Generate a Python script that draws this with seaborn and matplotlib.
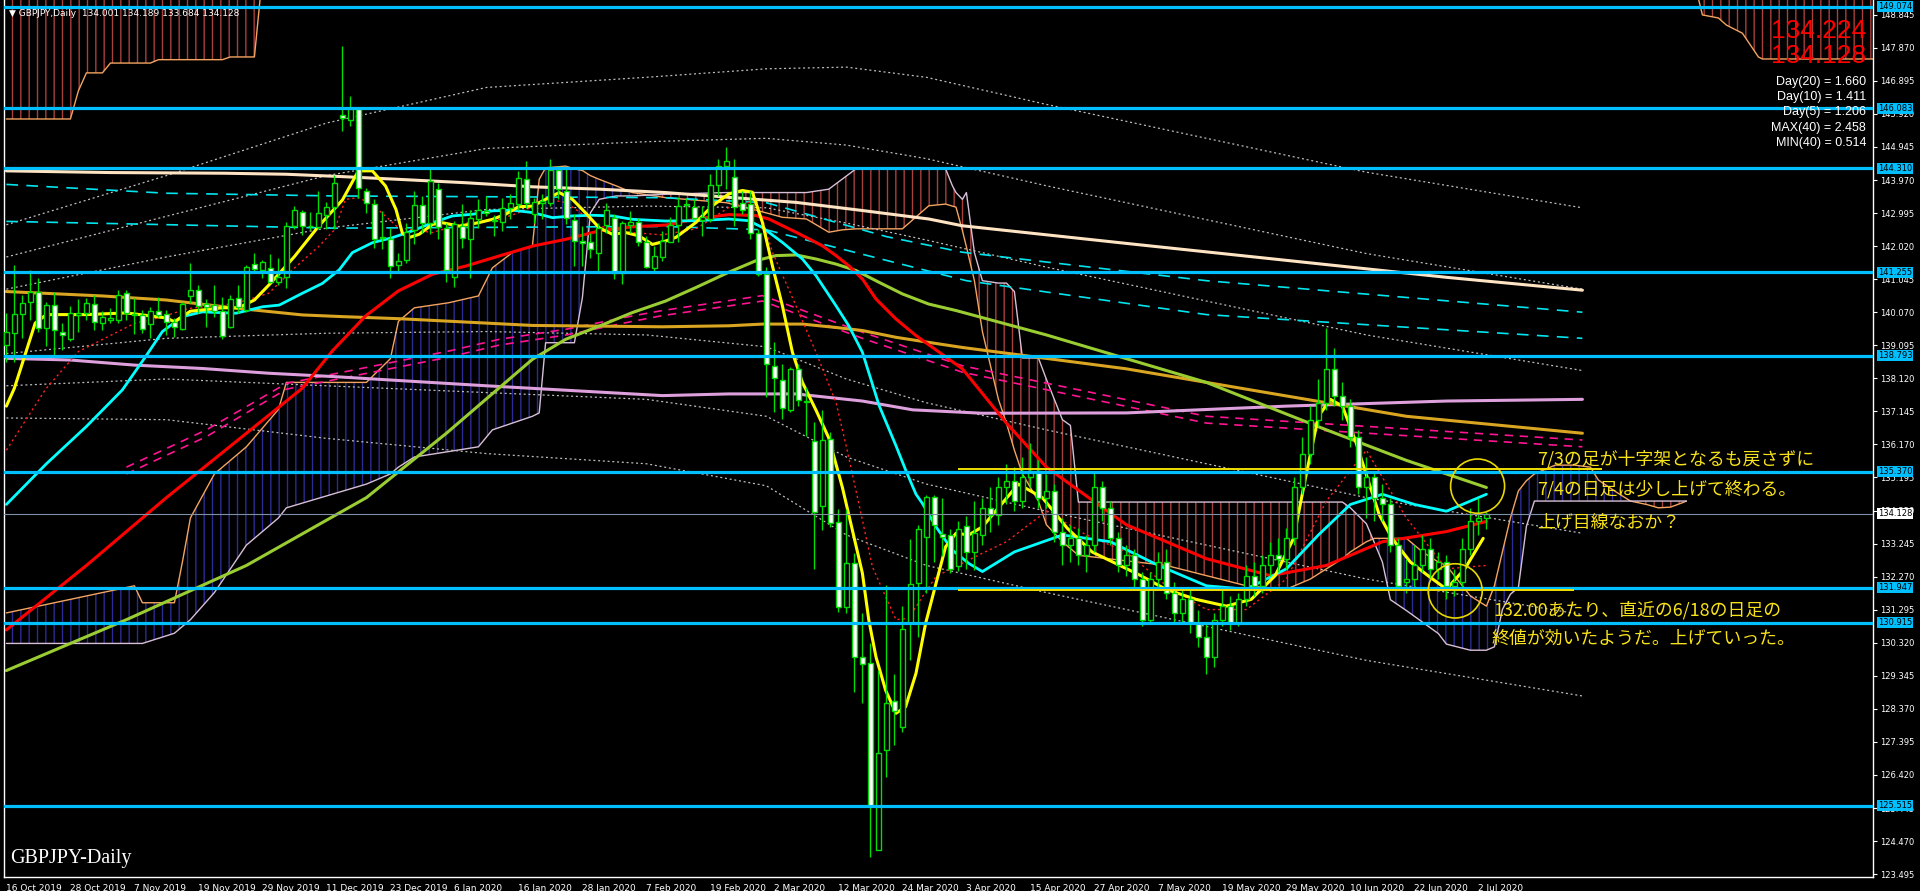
import numpy as np
import pandas as pd
import seaborn as sns
import matplotlib
matplotlib.use("Agg")
import matplotlib.pyplot as plt
from matplotlib.patches import Ellipse

sns.set_theme(style="dark")
plt.rcParams['font.family'] = ['DejaVu Sans']
plt.rcParams['hatch.linewidth'] = 1.0

# ---------------- data ----------------
dates = pd.bdate_range("2019-10-16", "2020-07-03")
dates = dates[~dates.isin(pd.to_datetime(["2019-12-25", "2020-01-01"]))]

opens = [139.10, 139.45, 140.02, 140.38, 140.68, 139.60, 140.27, 139.50, 139.27, 140.00,
         140.04, 140.30, 139.74, 139.83, 139.84, 140.63, 139.98, 139.98, 139.72, 140.12,
         140.01, 139.77, 139.57, 140.55, 140.73, 140.30, 140.28, 140.12, 139.62, 140.48,
         140.15, 141.48, 141.31, 141.37, 140.95, 141.10, 142.60, 143.04, 142.60, 142.57,
         142.94, 143.18, 145.88, 145.74, 146.05, 143.65, 143.27, 142.28, 142.24, 141.45,
         141.60, 142.49, 143.24, 142.71, 143.71, 142.56, 141.12, 142.61, 142.24, 142.83,
         143.06, 142.80, 142.73, 143.15, 143.25, 144.01, 142.96, 143.30, 143.30, 144.28,
         143.65, 142.79, 142.17, 142.14, 141.83, 142.63, 142.86, 141.22, 142.64, 142.73,
         142.15, 141.38, 141.71, 142.15, 142.64, 143.25, 143.16, 142.80, 142.82, 143.82,
         144.37, 144.07, 143.28, 143.26, 142.40, 141.20, 138.49, 138.08, 137.20, 138.40,
         137.44, 136.27, 134.35, 136.32, 133.87, 131.38, 132.68, 129.91, 129.73, 124.21,
         127.17, 128.61, 127.84, 130.91, 132.07, 133.45, 134.63, 133.53, 133.49, 132.58,
         133.77, 132.99, 133.50, 134.30, 134.10, 134.90, 135.10, 134.50, 135.20, 135.40,
         134.60, 134.80, 133.60, 133.20, 133.40, 132.90, 133.20, 134.90, 134.30, 133.40,
         132.60, 132.90, 132.20, 131.00, 132.20, 132.70, 131.80, 131.20, 131.60, 130.90,
         130.50, 129.90, 131.00, 131.40, 130.90, 131.60, 132.30, 132.00, 132.60, 132.90,
         132.80, 133.40, 134.90, 135.90, 136.90, 137.40, 138.40, 137.60, 137.30, 136.40,
         134.90, 135.20, 134.60, 134.40, 133.20, 132.10, 132.20, 132.60, 133.10, 132.50,
         132.70, 132.00, 132.10, 133.10, 133.90, 134.001]
highs = [140.04, 141.46, 140.58, 141.32, 141.07, 140.38, 140.68, 139.76, 140.24, 140.45,
         140.48, 140.58, 140.12, 140.19, 140.73, 140.73, 140.48, 140.13, 140.23, 140.53,
         140.14, 139.89, 140.38, 141.51, 140.87, 140.45, 140.87, 140.53, 140.58, 140.87,
         141.46, 141.81, 141.61, 141.79, 141.66, 142.74, 143.20, 143.09, 143.04, 143.65,
         143.33, 144.12, 147.92, 146.45, 146.10, 143.74, 143.40, 143.06, 142.56, 141.82,
         142.71, 143.65, 143.50, 144.33, 143.89, 142.71, 142.76, 143.25, 143.10, 143.42,
         143.50, 142.95, 143.45, 143.55, 144.24, 144.53, 143.45, 143.55, 144.58, 144.38,
         144.33, 142.96, 142.61, 142.41, 142.71, 143.28, 142.96, 142.76, 143.06, 142.86,
         142.32, 142.02, 142.47, 142.87, 143.46, 143.43, 143.41, 143.20, 144.15, 144.59,
         144.93, 144.59, 143.66, 143.66, 142.53, 141.40, 139.18, 138.54, 138.44, 138.54,
         137.85, 136.84, 137.18, 136.55, 134.28, 134.28, 132.96, 131.19, 130.30, 129.52,
         132.02, 129.40, 131.40, 133.37, 133.79, 134.68, 134.68, 134.58, 133.69, 133.92,
         134.06, 134.51, 134.60, 134.90, 135.20, 135.60, 135.50, 135.80, 136.20, 135.70,
         135.30, 135.00, 134.00, 133.80, 133.70, 133.50, 135.40, 135.10, 134.50, 133.60,
         133.20, 133.10, 132.40, 132.40, 133.00, 133.10, 132.10, 131.90, 131.90, 131.30,
         130.90, 131.20, 131.90, 131.70, 131.80, 132.60, 132.70, 132.90, 133.30, 133.40,
         133.70, 135.20, 136.40, 137.30, 138.10, 139.60, 139.00, 138.00, 137.50, 136.60,
         135.80, 135.40, 135.00, 134.60, 133.40, 132.80, 133.20, 133.50, 133.40, 133.00,
         132.90, 132.50, 133.40, 134.30, 134.60, 134.189]
lows = [138.61, 138.61, 139.30, 139.84, 139.50, 139.06, 138.81, 138.96, 139.23, 139.50,
        139.84, 139.55, 139.55, 139.74, 139.74, 139.84, 139.43, 139.45, 139.30, 139.92,
        139.40, 139.35, 139.55, 140.33, 140.04, 139.64, 139.94, 139.27, 139.59, 140.04,
        140.09, 141.22, 141.07, 140.92, 140.87, 140.77, 142.52, 142.35, 142.50, 142.52,
        142.52, 142.52, 145.42, 145.55, 143.45, 143.00, 141.97, 141.93, 141.09, 141.29,
        141.53, 142.07, 142.42, 142.37, 142.22, 140.96, 140.82, 141.97, 141.09, 142.56,
        142.90, 142.33, 142.47, 142.81, 143.10, 143.15, 142.71, 142.81, 143.20, 143.40,
        142.66, 141.43, 141.43, 141.68, 141.24, 142.41, 141.04, 140.89, 142.41, 142.02,
        141.38, 141.24, 141.58, 142.13, 142.13, 142.82, 142.82, 142.31, 142.72, 143.50,
        143.70, 142.62, 142.97, 142.23, 141.15, 137.56, 137.12, 136.92, 137.12, 137.31,
        136.43, 132.51, 133.65, 133.74, 131.24, 131.19, 128.88, 128.53, 124.00, 124.20,
        126.37, 127.30, 127.70, 129.81, 130.50, 131.78, 132.71, 132.88, 132.37, 132.45,
        132.49, 132.47, 133.20, 133.60, 133.80, 134.40, 134.20, 134.30, 134.90, 134.30,
        134.30, 133.30, 132.60, 132.70, 132.60, 132.40, 133.00, 133.90, 133.20, 132.40,
        132.30, 131.90, 130.80, 130.90, 131.90, 131.60, 130.90, 130.90, 130.60, 130.20,
        129.40, 129.60, 130.80, 130.70, 130.80, 131.40, 131.70, 131.80, 132.30, 132.40,
        132.50, 133.20, 134.70, 135.60, 136.70, 137.20, 137.30, 136.90, 136.10, 134.70,
        134.00, 133.90, 133.90, 133.00, 131.90, 131.80, 132.00, 132.40, 132.20, 132.20,
        131.60, 131.70, 131.90, 132.90, 133.50, 133.684]
closes = [139.50, 140.02, 140.33, 140.68, 139.60, 140.28, 139.55, 139.40, 140.06, 140.06,
          140.35, 139.77, 139.92, 139.89, 140.58, 140.04, 140.01, 139.57, 140.10, 139.98,
          139.77, 139.62, 140.31, 140.73, 140.25, 140.23, 140.12, 139.37, 140.45, 140.23,
          141.39, 141.34, 141.54, 140.97, 141.10, 142.60, 143.09, 142.60, 142.62, 143.00,
          143.18, 143.89, 145.79, 146.05, 143.74, 143.28, 142.22, 142.27, 141.43, 141.58,
          142.44, 143.24, 142.71, 143.93, 142.59, 141.32, 142.66, 142.27, 142.86, 143.10,
          143.00, 142.75, 143.15, 143.28, 144.04, 143.28, 143.32, 143.36, 144.28, 143.70,
          142.84, 142.17, 142.12, 141.93, 142.56, 143.10, 141.24, 142.69, 142.73, 142.15,
          141.41, 141.73, 142.17, 142.64, 143.21, 143.23, 142.85, 142.87, 143.83, 144.39,
          144.54, 143.16, 143.08, 142.40, 141.20, 138.54, 138.12, 137.24, 138.40, 137.48,
          137.43, 134.19, 136.30, 133.84, 131.38, 132.68, 129.89, 129.68, 125.50, 127.06,
          128.55, 128.32, 130.72, 132.05, 133.67, 134.63, 133.79, 133.45, 132.49, 133.67,
          133.00, 133.55, 134.30, 134.10, 134.90, 135.10, 134.50, 135.20, 135.40, 134.60,
          134.80, 133.60, 133.20, 133.40, 132.90, 133.20, 134.90, 134.30, 133.40, 132.60,
          132.90, 132.20, 131.00, 132.20, 132.70, 131.80, 131.20, 131.60, 130.90, 130.50,
          129.90, 131.00, 131.40, 130.90, 131.60, 132.30, 132.00, 132.60, 132.90, 132.80,
          133.40, 134.90, 135.90, 136.90, 137.40, 138.40, 137.60, 137.30, 136.40, 134.90,
          135.20, 134.60, 134.40, 133.20, 132.00, 132.20, 132.60, 133.10, 132.50, 132.70,
          132.00, 132.10, 133.10, 133.90, 134.00, 134.128]

# moving averages as (bar index, price) knots
yellow_idx = [0, 1, 3.6, 5, 10, 15, 20, 21, 23, 27, 29, 31, 33, 36, 39, 42, 44, 45.75, 47.4, 48.7, 49.5,
              50.3, 51.6, 53.25, 54.5, 56.6, 59, 60.75, 62.4, 64, 65.75, 67.4, 69.1, 70.75, 72.4, 74.1,
              75.75, 77.4, 79.1, 80.75, 82.4, 83.7, 86.2, 88.25, 90.3, 92, 93.25, 94.5, 95.75, 97, 98.25,
              99.5, 101.2, 102.8, 104.5, 105.75, 107, 107.8, 108.7, 109.9, 111.2, 112.4, 113.7, 114.9,
              116.2, 117.4, 118.7, 120.3, 122, 126.5, 129.5, 132.6, 135.7, 141.8, 144.9, 148.7, 152.5,
              155.6, 158.6, 160.9, 162.4, 164, 165.5, 167, 168.6, 170.1, 171.6, 173.2, 175.5, 177.7,
              180, 182.3, 184.6]
yellow_val = [137.3, 137.83, 139.75, 140.0, 140.0, 140.05, 139.9, 139.79, 140.1, 140.2, 140.2, 140.43,
              140.92, 141.71, 142.6, 143.38, 144.24, 144.24, 143.79, 143.1, 142.4, 142.27, 142.37,
              142.66, 142.71, 142.61, 142.71, 142.81, 142.96, 143.18, 143.2, 143.4, 143.6, 143.4, 143.0,
              142.56, 142.37, 142.42, 142.32, 142.07, 142.17, 142.28, 142.72, 143.21, 143.56, 143.66,
              143.61, 142.72, 141.44, 140.26, 138.89, 138.0, 137.18, 136.36, 134.9, 133.64, 132.37,
              130.99, 129.9, 128.92, 128.24, 128.43, 129.42, 130.89, 132.07, 133.15, 133.55, 133.5,
              133.74, 135.0, 134.6, 133.7, 133.0, 132.3, 131.9, 131.6, 131.4, 131.6, 132.3, 133.4,
              135.2, 137.0, 137.5, 137.3, 136.3, 135.2, 134.1, 133.4, 132.7, 132.3, 131.9, 132.5, 133.4]

cyan_idx = [0, 5, 10, 14.5, 17.4, 19.5, 22, 24.5, 28.7, 32, 34.1, 37, 39.5, 41.6, 43.25, 45.75, 48.25,
            50.75, 53.25, 55.75, 58.25, 60.75, 63.25, 65.75, 68.25, 70.75, 73.25, 75.75, 78.25, 82.4,
            86.2, 90.3, 92.8, 94.5, 97, 99.5, 101.2, 103.7, 105.3, 107, 109.1, 111.2, 112.4, 113.7,
            114.5, 116.2, 118.25, 120.3, 122, 126, 132, 138, 144, 150, 155, 160, 164, 168, 172, 176,
            180, 185]
cyan_val = [134.4, 135.6, 136.7, 137.78, 138.76, 139.5, 139.94, 140.08, 140.04, 140.23, 140.28, 140.63,
            140.92, 141.32, 141.83, 142.12, 142.27, 142.47, 142.71, 142.91, 142.96, 143.06, 143.08,
            143.01, 142.86, 142.91, 142.93, 142.91, 142.81, 142.76, 142.77, 142.82, 142.77, 142.57,
            142.13, 141.64, 141.15, 140.26, 139.67, 138.89, 137.31, 136.13, 135.42, 134.7, 134.43,
            133.74, 133.05, 132.66, 132.42, 133.0, 133.5, 133.3, 132.6, 132.0, 131.9, 132.5, 133.5,
            134.4, 134.7, 134.4, 134.2, 134.7]

red_idx = [0, 10, 20, 30, 37, 40.75, 44.9, 49, 53.25, 57.4, 61.6, 65.75, 69.9, 74.1, 78.25, 82.4, 86.2,
           90.3, 93.7, 95.3, 98.7, 102, 103.7, 105.3, 107, 108.7, 111.2, 113.7, 116.6, 119.5, 125, 130,
           140, 150, 158, 165, 172, 180, 185]
red_val = [130.7, 132.6, 134.6, 136.5, 137.83, 138.93, 139.96, 140.7, 141.19, 141.43, 141.73, 142.02,
           142.22, 142.47, 142.59, 142.64, 142.82, 142.95, 142.92, 142.82, 142.43, 142.03, 141.74,
           141.44, 141.05, 140.46, 139.87, 139.38, 138.89, 138.4, 136.8, 135.5, 133.8, 132.8, 132.3,
           132.6, 133.3, 133.6, 133.9]

lime_idx = [0, 15, 30, 45, 55, 65.75, 69.9, 74.1, 78.25, 82.4, 86.2, 90.3, 93.7, 96.2, 98.7, 101.2,
            103.7, 106.2, 109.1, 112, 115.3, 118.7, 130, 150, 165, 175, 185]
lime_val = [129.5, 131.0, 132.6, 134.6, 136.5, 138.68, 139.27, 139.66, 140.06, 140.4, 140.8, 141.25,
            141.59, 141.74, 141.76, 141.64, 141.49, 141.3, 140.95, 140.61, 140.31, 140.12, 139.4,
            138.0, 136.6, 135.7, 134.9]

orange_idx = [0, 12, 20, 28.7, 37, 42, 49, 57.4, 65.75, 74.1, 82, 90.3, 94.5, 99.5, 103.7, 107, 111.2,
              115.3, 119.5, 140, 160, 175, 197]
orange_val = [140.68, 140.55, 140.43, 140.19, 139.99, 139.94, 139.88, 139.78, 139.68, 139.66, 139.64,
              139.67, 139.72, 139.72, 139.62, 139.53, 139.33, 139.18, 139.03, 138.4, 137.6, 137.0, 136.5]

plum_idx = [0, 8, 16, 24.5, 32.8, 41, 60, 82, 90.3, 98.7, 107, 113.3, 122, 140, 160, 180, 197]
plum_val = [138.71, 138.66, 138.51, 138.41, 138.27, 138.17, 137.9, 137.61, 137.66, 137.66, 137.45,
            137.19, 137.09, 137.1, 137.3, 137.45, 137.5]

cream_idx = [0, 13, 27.2, 35, 42, 49, 57.4, 65.75, 74.1, 82.4, 90.3, 98.7, 107, 115.3, 119.5, 140, 160,
             180, 197]
cream_val = [144.24, 144.19, 144.17, 144.14, 144.07, 143.99, 143.89, 143.77, 143.7, 143.6, 143.46,
             143.31, 143.07, 142.82, 142.62, 142.1, 141.6, 141.1, 140.72]

cyan_dash1_idx = [0, 20, 41, 82, 95, 110, 119.5, 150, 197]
cyan_dash1_val = [143.84, 143.58, 143.5, 143.45, 143.3, 142.3, 141.84, 141.0, 140.07]
cyan_dash2_idx = [0, 41, 82, 95, 120, 150, 197]
cyan_dash2_val = [142.75, 142.55, 142.6, 142.5, 141.0, 140.0, 139.3]

pink_dash1_idx = [15, 25, 35, 55.4, 61.6, 70, 78.25, 82, 94.5, 107, 119.5, 150, 197]
pink_dash1_val = [135.5, 136.6, 137.97, 138.93, 139.27, 139.57, 139.96, 140.12, 140.56, 139.48, 138.49,
                  137.0, 136.3]
pink_dash2_val = [135.3, 136.4, 137.8, 138.75, 139.1, 139.4, 139.8, 139.97, 140.4, 139.3, 138.3,
                  136.8, 136.1]

dotred_idx = [0, 4.9, 9, 16, 19, 22.75, 28.7, 32.8, 35.75, 39, 41, 42.4, 44, 45.75, 49, 53.25, 57.4,
              61.6, 64, 67.8, 70, 74.1, 78.25, 82, 86.2, 90.3, 92.8, 94.5, 95.75, 98.7, 101.2, 103.7,
              105, 107, 108.25, 109.9, 111.2, 112.8, 114.5, 116.2, 117.8, 120.3, 122, 125, 130, 135,
              140, 145, 150, 155, 160, 165, 170, 175, 180, 185]
dotred_val = [136.0, 137.8, 138.91, 139.74, 139.9, 140.18, 140.33, 140.63, 141.32, 142.0, 142.5, 143.4,
              143.45, 143.25, 142.56, 142.42, 142.71, 142.81, 143.0, 143.4, 143.3, 142.61, 142.42,
              142.35, 142.53, 143.16, 143.31, 142.82, 141.84, 140.26, 138.89, 137.41, 136.1, 133.94,
              132.56, 131.68, 131.0, 131.04, 131.68, 132.27, 132.47, 132.76, 132.96, 133.3, 134.2,
              133.5, 133.0, 132.0, 131.3, 131.3, 132.2, 134.5, 136.0, 134.0, 132.5, 132.6]

# envelope bands (centre and step)
band_idx = [0, 20, 40, 60, 80, 95, 105, 115, 130, 150, 170, 197]
band_mid = [139.8, 140.5, 141.0, 141.3, 141.3, 141.1, 140.4, 139.8, 139.0, 138.0, 137.0, 135.95]
band_step = [0.95, 1.2, 1.55, 1.8, 1.9, 2.05, 2.3, 2.4, 2.4, 2.4, 2.4, 2.4]

# ichimoku cloud: span A / span B
cloud_idx = [0, 8, 16, 17, 21, 22, 23, 26, 30, 34, 35, 45, 48, 49, 51, 55.3, 59, 60.75, 63.25, 65.75,
             66.6, 67.4, 69.9, 71, 72, 73, 74.1, 76.2, 78.25, 82.4, 90, 95, 97, 100, 102.8, 104.5, 106.2,
             112, 115.3, 117.4, 118.25, 118.7, 119.5, 120, 121, 122, 124, 125, 126, 127, 129, 130, 132,
             133, 134, 145, 155, 160, 163, 167, 168, 170, 171, 172, 173, 175, 177, 179, 180, 183, 185,
             186, 187, 188, 189, 190, 191, 193.6, 196, 198, 199, 201, 203, 205, 206.5, 208, 209.5, 210]
span_a = [131.2, 131.6, 132.0, 131.5, 131.5, 132.7, 134.0, 135.3, 136.1, 137.2, 138.0, 138.0, 138.7,
          139.8, 140.2, 140.35, 140.55, 141.38, 141.83, 142.02, 143.99, 144.33, 144.38, 144.3, 144.25,
          144.1, 143.99, 143.8, 143.6, 143.45, 143.3, 143.0, 142.87, 142.82, 142.43, 142.5, 142.53,
          142.53, 143.21, 143.26, 143.2, 143.17, 142.48, 142.0, 141.0, 139.5, 137.5, 136.8, 136.0,
          135.3, 134.5, 133.8, 133.3, 133.1, 132.9, 132.6, 132.0, 131.9, 132.2, 132.8, 133.0, 133.3,
          133.4, 133.4, 133.4, 133.4, 133.0, 132.7, 132.6, 131.7, 131.4, 132.0, 133.0, 134.0, 134.8,
          135.1, 135.3, 135.56, 135.56, 135.5, 135.12, 134.8, 134.5, 134.4, 134.3, 134.32, 134.45, 134.5]
span_b = [130.3, 130.3, 130.3, 130.3, 130.6, 130.8, 131.0, 131.8, 133.2, 134.0, 134.3, 135.0, 135.3,
          135.5, 135.8, 135.96, 136.1, 136.6, 136.8, 137.0, 137.1, 139.17, 139.17, 139.17, 140.5, 143.0,
          143.4, 143.5, 143.5, 143.55, 143.6, 143.6, 143.6, 143.6, 143.7, 144.0, 144.3, 144.3, 144.3,
          144.3, 143.8, 143.6, 143.4, 143.6, 141.83, 141.0, 140.93, 140.93, 140.68, 138.72, 138.72,
          138.09, 136.9, 136.73, 134.47, 134.47, 134.47, 134.47, 134.47, 134.47, 134.3, 133.83, 133.27,
          132.7, 131.59, 131.27, 130.93, 130.59, 130.28, 130.1, 130.1, 130.2, 131.3, 131.75, 131.95,
          133.75, 134.5, 134.5, 134.5, 134.5, 134.5, 134.5, 134.5, 134.5, 134.5, 134.5, 134.5, 134.5]

# second (long) cloud, upper edge off the chart
cloud2_left_idx = [0, 8, 9, 10, 12, 13, 18, 19, 27, 28, 31, 32]
cloud2_left_val = [145.77, 145.77, 146.6, 147.13, 147.13, 147.42, 147.42, 147.52, 147.52, 147.6, 147.6, 150.0]
cloud2_right_idx = [210.8, 212, 214, 215, 217, 219, 219.5, 234]
cloud2_right_val = [150.0, 148.84, 148.75, 148.54, 148.3, 147.6, 147.54, 147.54]

levels = [149.074, 146.083, 144.310, 141.255, 138.793, 135.370, 131.947, 130.915, 125.515]
last_price = 134.128
axis_ticks = [148.845 - 0.975 * k for k in range(27)]

# ---------------- figure ----------------
W, H = 1920, 891
fig = plt.figure(figsize=(W / 100, H / 100), dpi=100, facecolor="black")
ax = fig.add_axes([4 / W, 14 / H, 1869 / W, 877 / H])
ax.set_facecolor("black")
ax.grid(False)
X0, X1 = -0.3, -0.3 + 1869 / 8
Y0, Y1 = 123.41, 149.28
ax.set_xlim(X0, X1)
ax.set_ylim(Y0, Y1)

BLUE_H = "#2c2c96"
RED_H = "#a8403c"

# cloud hatching
cx = np.array(cloud_idx)
a = np.array(span_a)
b = np.array(span_b)
ax.fill_between(cx, a, b, where=a >= b, interpolate=True, facecolor="none", edgecolor=BLUE_H,
                hatch="||", linewidth=0, zorder=1)
ax.fill_between(cx, a, b, where=a < b, interpolate=True, facecolor="none", edgecolor=RED_H,
                hatch="||", linewidth=0, zorder=1)
ax.fill_between(cloud2_left_idx, cloud2_left_val, 151, facecolor="none", edgecolor=RED_H,
                hatch="||", linewidth=0, zorder=1)
ax.fill_between(cloud2_right_idx, cloud2_right_val, 151, facecolor="none", edgecolor=RED_H,
                hatch="||", linewidth=0, zorder=1)


def line(xs, ys, color, lw, ls="-", z=2):
    sns.lineplot(x=xs, y=ys, ax=ax, color=color, linewidth=lw, linestyle=ls,
                 estimator=None, sort=False, legend=False, zorder=z)


line(cloud_idx, span_a, "#f4a460", 1.0)
line(cloud_idx, span_b, "#d8bfd8", 1.0)
line(cloud2_left_idx, cloud2_left_val, "#f4a460", 1.0)
line(cloud2_right_idx, cloud2_right_val, "#f4a460", 1.0)

# envelope bands
bm = np.array(band_mid)
bs = np.array(band_step)
for k in (1, 2, 3):
    line(band_idx, bm + k * bs, "#bdbdbd", 0.9, (0, (1.6, 2.2)))
    line(band_idx, bm - k * bs, "#bdbdbd", 0.9, (0, (1.6, 2.2)))

line(cyan_dash1_idx, cyan_dash1_val, "#00e5ee", 1.2, (0, (7, 5)))
line(cyan_dash2_idx, cyan_dash2_val, "#00e5ee", 1.2, (0, (7, 5)))
line(pink_dash1_idx, pink_dash1_val, "#ff1493", 1.2, (0, (5, 4)))
line(pink_dash1_idx, pink_dash2_val, "#ff1493", 1.2, (0, (5, 4)))
line(cream_idx, cream_val, "#ffe4c4", 2.2)
line(plum_idx, plum_val, "#dda0dd", 2.2)
line(orange_idx, orange_val, "#daa520", 2.2)
line(lime_idx, lime_val, "#9acd32", 2.2)
line(dotred_idx, dotred_val, "#ff2020", 1.0, (0, (1.6, 2.2)))
line(red_idx, red_val, "#ff0000", 2.2)
line(cyan_idx, cyan_val, "#00ffff", 2.0)
line(yellow_idx, yellow_val, "#ffff00", 2.2)

# candles
o = np.array(opens)
h = np.array(highs)
l = np.array(lows)
c = np.array(closes)
xi = np.arange(len(o))
GREEN = "#00dd00"
ax.vlines(xi, l, h, color=GREEN, linewidth=1.0, zorder=4)
bull = c >= o
body_lo = np.minimum(o, c)
body_h = np.maximum(np.abs(c - o), 0.02)
ax.bar(xi[bull], body_h[bull], bottom=body_lo[bull], width=0.62, color="black",
       edgecolor=GREEN, linewidth=1.0, zorder=5)
ax.bar(xi[~bull], body_h[~bull], bottom=body_lo[~bull], width=0.62, color="white",
       edgecolor=GREEN, linewidth=1.0, zorder=5)

# horizontal levels
for lv in levels:
    ax.axhline(lv, color="#00bfff", linewidth=2.3, zorder=6)
ax.axhline(last_price, color="#7f8fa6", linewidth=0.8, zorder=6)
ax.hlines(135.45, 119, 199.5, color="#f0e000", linewidth=1.4, zorder=6)
ax.hlines(131.88, 119, 196, color="#f0e000", linewidth=1.4, zorder=6)

# circles
for cxy in [(183.9, 134.94), (181.1, 131.85)]:
    ax.add_patch(Ellipse(cxy, 6.75, 1.6, fill=False, edgecolor="#e8d800", linewidth=1.2, zorder=7))

# axes styling
for s in ("left", "bottom", "right"):
    ax.spines[s].set_color("white")
    ax.spines[s].set_linewidth(1.0)
ax.spines["top"].set_visible(False)
ax.yaxis.tick_right()
ax.set_yticks(axis_ticks)
ax.set_yticklabels([f"{t:.3f}" for t in axis_ticks])
ax.tick_params(axis="y", colors="white", labelsize=6, length=3, width=0.8, pad=2)
tick_pos = list(range(0, len(dates), 8))
ax.set_xticks(tick_pos)
ax.set_xticklabels([f"{dates[p].day} {dates[p].strftime('%b %Y')}" for p in tick_pos],
                   ha="left")
ax.tick_params(axis="x", colors="white", labelsize=6.5, length=4, width=0.8, pad=1)
ax.set_xlabel("")
ax.set_ylabel("")

# level price boxes
for lv in levels:
    ax.text(1.0025, lv, f"{lv:.3f}", transform=ax.get_yaxis_transform(), ha="left", va="center",
            fontsize=6, color="black", zorder=10, clip_on=False,
            bbox=dict(boxstyle="square,pad=0.12", fc="#00bfff", ec="none"))
ax.text(1.0025, last_price, f"{last_price:.3f}", transform=ax.get_yaxis_transform(), ha="left",
        va="center", fontsize=6, color="black", zorder=10, clip_on=False,
        bbox=dict(boxstyle="square,pad=0.12", fc="white", ec="none"))


def ftext(px, py, s, **kw):
    fig.text(px / W, 1 - py / H, s, **kw)


ftext(9, 13, "\u25bc GBPJPY,Daily  134.001 134.189 133.684 134.128", color="white", fontsize=6.5,
      va="center", ha="left")
ftext(1866, 31, "134.224", color="red", fontsize=19, family="Liberation Sans", ha="right", va="center")
ftext(1866, 56, "134.128", color="red", fontsize=19, family="Liberation Sans", ha="right", va="center")
for k, s in enumerate(["Day(20) = 1.660", "Day(10) = 1.411", "Day(5) = 1.206", "MAX(40) = 2.458",
                       "MIN(40) = 0.514"]):
    ftext(1866, 82 + 15.2 * k, s, color="white", fontsize=9, family="Liberation Sans", ha="right",
          va="center")
ftext(10, 858, "GBPJPY-Daily", color="white", fontsize=14.5, family="Liberation Serif", ha="left",
      va="center")

JP = ["Noto Sans CJK JP", "DejaVu Sans"]
YEL = "#f8e21a"
ftext(1537, 459, "7/3の足が十字架となるも戻さずに", color=YEL, fontsize=12.9, family=JP, va="center")
ftext(1537, 489, "7/4の日足は少し上げて終わる。", color=YEL, fontsize=12.9, family=JP, va="center")
ftext(1537, 523, "上げ目線なおか？", color=YEL, fontsize=12.9, family=JP, va="center")
ftext(1493, 610, "132.00あたり、直近の6/18の日足の", color=YEL, fontsize=12.9, family=JP, va="center")
ftext(1492, 639, "終値が効いたようだ。上げていった。", color=YEL, fontsize=12.9, family=JP, va="center")

fig.savefig("out.png", dpi=100, facecolor="black")
